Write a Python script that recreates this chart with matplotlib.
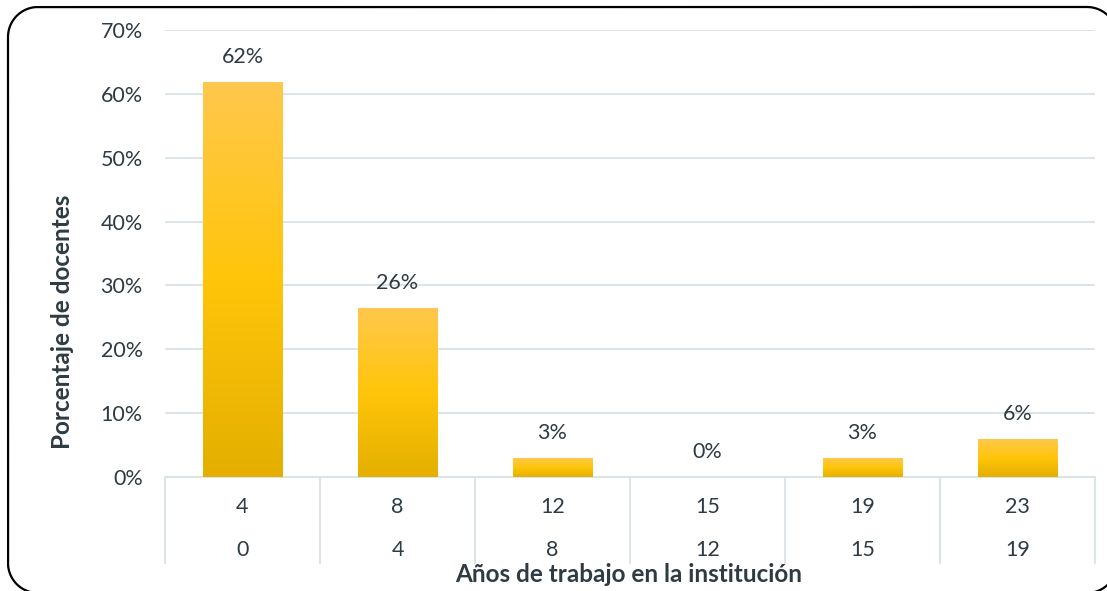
import matplotlib.pyplot as plt
import numpy as np
from matplotlib.lines import Line2D
from matplotlib.colors import LinearSegmentedColormap
import matplotlib.transforms as mtransforms

plt.rcParams['font.family'] = ['Lato', 'DejaVu Sans']

# data
upper = ['4', '8', '12', '15', '19', '23']
lower = ['0', '4', '8', '12', '15', '19']
values = [61.8, 26.4, 2.9, 0.0, 2.9, 5.9]
labels = ['62%', '26%', '3%', '0%', '3%', '6%']

txt = '#2E3B42'
grid = '#D9E2E5'
fs = 15.5

W, H = 1107, 591
fig = plt.figure(figsize=(W / 100, H / 100), dpi=100)
ax = fig.add_axes([165 / W, (H - 477) / H, (1095 - 165) / W, (477 - 30) / H])


def rounded_frame(x0, y0, x1, y1, r, n=40):
    # corners as sampled arcs (pixel coords, y measured from the bottom)
    pts = []
    for cx, cy, a0 in [(x1 - r, y1 - r, 0), (x0 + r, y1 - r, 90),
                       (x0 + r, y0 + r, 180), (x1 - r, y0 + r, 270)]:
        t = np.radians(np.linspace(a0, a0 + 90, n))
        pts.append(np.c_[cx + r * np.cos(t), cy + r * np.sin(t)])
    pts = np.vstack(pts + [pts[0][:1]])
    return pts[:, 0] / W, pts[:, 1] / H


fx, fy = rounded_frame(8, -2, 1117, H - 7, 30)
fig.add_artist(Line2D(fx, fy, transform=fig.transFigure, color='black',
                      linewidth=1.6))

x = np.arange(len(values))
bars = ax.bar(x, values, width=0.51, color='none', zorder=3)

cmap = LinearSegmentedColormap.from_list('gold', ['#E4AF00', '#FFC50A', '#FFC84C'])
grad = np.linspace(0, 1, 256).reshape(-1, 1)
for b in bars:
    h = b.get_height()
    if h <= 0:
        continue
    bx0, bw = b.get_x(), b.get_width()
    im = ax.imshow(grad, cmap=cmap, aspect='auto', origin='lower',
                   extent=[bx0, bx0 + bw, 0, h], zorder=3)
    im.set_clip_path(b)

for xi, v, lab in zip(x, values, labels):
    ax.annotate(lab, (xi, v), xytext=(0, 11), textcoords='offset points',
                ha='center', va='bottom', fontsize=fs, color=txt)

ax.set_xlim(-0.5, 5.5)
ax.set_ylim(0, 70)
ax.set_yticks(range(0, 71, 10))
ax.set_yticklabels([f'{t}%' for t in range(0, 71, 10)], fontsize=fs, color=txt)
ax.yaxis.grid(True, color=grid, linewidth=1.3, zorder=0)
ax.set_axisbelow(True)
ax.tick_params(axis='y', length=0, pad=16)
ax.set_xticks([])
for s in ['top', 'right', 'left']:
    ax.spines[s].set_visible(False)
ax.spines['bottom'].set_color(grid)
ax.spines['bottom'].set_linewidth(1.3)

# two-level category axis
axh = 477 - 30
trans = mtransforms.blended_transform_factory(ax.transData, ax.transAxes)
for xi, u, l in zip(x, upper, lower):
    ax.text(xi, -30 / axh, u, transform=trans, ha='center', va='center',
            fontsize=fs, color=txt)
    ax.text(xi, -73 / axh, l, transform=trans, ha='center', va='center',
            fontsize=fs, color=txt)
for xs in np.arange(-0.5, 6.0, 1.0):
    ax.plot([xs, xs], [0, -86 / axh], transform=trans, color=grid,
            linewidth=1.3, clip_on=False)

fig.text(629 / W, 1 - 575 / H, 'Años de trabajo en la institución',
         ha='center', va='center', fontsize=17.5, fontweight='bold', color=txt)
fig.text(62 / W, 1 - 322 / H, 'Porcentaje de docentes', rotation=90,
         ha='center', va='center', fontsize=17.5, fontweight='bold', color=txt)

fig.savefig('out.png', dpi=100)
